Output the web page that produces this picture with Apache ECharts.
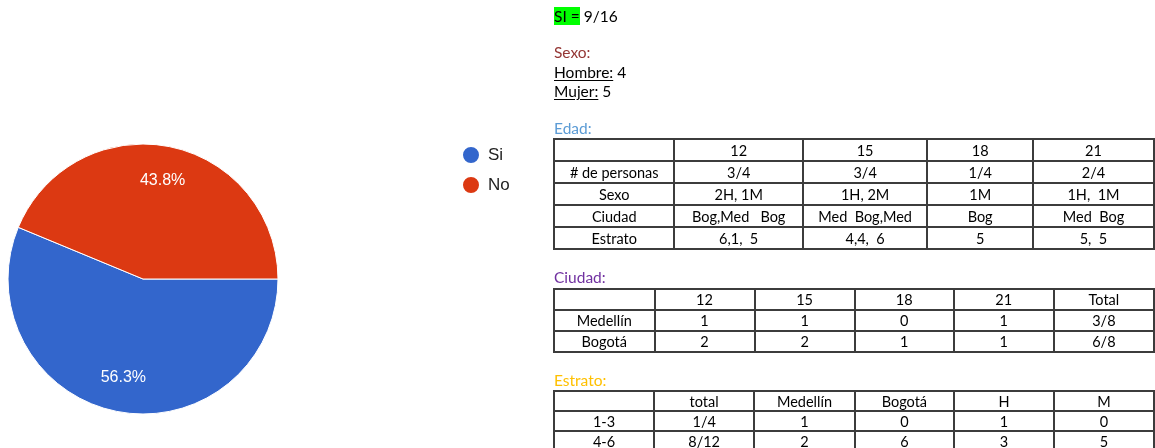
<!DOCTYPE html>
<html>
<head>
<meta charset="utf-8">
<script src="https://cdn.jsdelivr.net/npm/echarts@6/dist/echarts.min.js"></script>
<style>
  body { margin: 0; background: #fff; }
  #wrap { position: relative; width: 1155px; height: 448px; overflow: hidden; }
  #chart { position: absolute; left: 0; top: 0; width: 1155px; height: 448px; }
  .note { position: absolute; left: 554px; font-family: Lato, "Open Sans", sans-serif; font-size: 15.5px; line-height: 19px; color: #000; white-space: pre; }
  .u { text-decoration: underline; text-underline-offset: 2px; }
  .hl { background: #00ff00; }
  table.grid { position: absolute; left: 553px; border-collapse: collapse; table-layout: fixed;
    font-family: Lato, "Open Sans", sans-serif; font-size: 14.5px; color: #000; }
  table.grid td { border: 2px solid #3c3c3c; text-align: center; padding: 0; white-space: pre; overflow: hidden; }
</style>
</head>
<body>
<div id="wrap">
  <div id="chart"></div>
  <div id="notes"></div>
</div>
<script>
// pie data
var pieNames = ['Si', 'No'];
var pieValues = [9, 7];

// table: Edad
var edadHead = ['', '12', '15', '18', '21'];
var edadRows = [
  ['# de personas', '3/4', '3/4', '1/4', '2/4'],
  ['Sexo', '2H, 1M', '1H, 2M', '1M', '1H,  1M'],
  ['Ciudad', 'Bog,Med   Bog', 'Med  Bog,Med', 'Bog', 'Med  Bog'],
  ['Estrato', '6,1,  5', '4,4,  6', '5', '5,  5']
];
// table: Ciudad
var ciudadHead = ['', '12', '15', '18', '21', 'Total'];
var ciudadRows = [
  ['Medellín', '1', '1', '0', '1', '3/8'],
  ['Bogotá', '2', '2', '1', '1', '6/8']
];
// table: Estrato
var estratoHead = ['', 'total', 'Medellín', 'Bogotá', 'H', 'M'];
var estratoRows = [
  ['1-3', '1/4', '1', '0', '1', '0'],
  ['4-6', '8/12', '2', '6', '3', '5']
];

var pieData = pieNames.map(function (n, i) { return { name: n, value: pieValues[i] }; });
var colors = ['#3366cc', '#dc3912'];

var chart = echarts.init(document.getElementById('chart'));
chart.setOption({
  animation: false,
  color: colors,
  legend: {
    data: pieNames,
    orient: 'vertical',
    left: 456,
    top: 140,
    icon: 'circle',
    itemWidth: 18,
    itemHeight: 18,
    itemGap: 10,
    textStyle: { fontSize: 17, color: '#222', fontFamily: 'Liberation Sans, Arial', padding: [0, 0, 0, 3] }
  },
  series: [
    { // the slices
      type: 'pie',
      center: [143, 279],
      radius: [0, 135],
      startAngle: 157.5,
      clockwise: false,
      label: { show: false },
      labelLine: { show: false },
      itemStyle: { borderColor: '#fff', borderWidth: 1 },
      emphasis: { disabled: true },
      data: pieData
    },
    { // invisible ring only to put the % labels at ~3/4 radius
      type: 'pie',
      center: [143, 279],
      radius: [60, 135],
      startAngle: 157.5,
      clockwise: false,
      silent: true,
      legendHoverLink: false,
      itemStyle: { color: 'rgba(0,0,0,0)' },
      label: {
        show: true,
        position: 'inside',
        color: '#fff',
        fontSize: 16,
        fontFamily: 'Liberation Sans, Arial',
        formatter: function (p) { return Number(p.percent).toFixed(1) + '%'; }
      },
      labelLine: { show: false },
      data: pieData.map(function (d) { return { name: d.name + ' ', value: d.value }; })
    }
  ]
});

// right side notes and tables
var notes = document.getElementById('notes');
function addNote(html, top, color) {
  var d = document.createElement('div');
  d.className = 'note';
  d.style.top = top + 'px';
  if (color) d.style.color = color;
  d.innerHTML = html;
  notes.appendChild(d);
}
function addTable(head, rows, top, widths, rowH) {
  var t = document.createElement('table');
  t.className = 'grid';
  t.style.top = top + 'px';
  var cg = document.createElement('colgroup');
  widths.forEach(function (w) { var c = document.createElement('col'); c.style.width = w + 'px'; cg.appendChild(c); });
  t.appendChild(cg);
  [head].concat(rows).forEach(function (r) {
    var tr = document.createElement('tr');
    tr.style.height = rowH + 'px';
    r.forEach(function (v) { var td = document.createElement('td'); td.textContent = v; tr.appendChild(td); });
    t.appendChild(tr);
  });
  notes.appendChild(t);
}

addNote('<span class="hl">SI =</span> 9/16', 7);
addNote('Sexo:', 43, '#943634');
addNote('<span class="u">Hombre:</span> 4', 63);
addNote('<span class="u">Mujer:</span> 5', 82);
addNote('Edad:', 119, '#5b9bd5');
addTable(edadHead, edadRows, 138, [121, 129, 125, 107, 122], 22);
addNote('Ciudad:', 268, '#7030a0');
addTable(ciudadHead, ciudadRows, 288, [101, 101, 101, 100, 101, 101], 21);
addNote('Estrato:', 371, '#ffc000');
addTable(estratoHead, estratoRows, 390, [101, 101, 101, 100, 101, 101], 20);
</script>
</body>
</html>
